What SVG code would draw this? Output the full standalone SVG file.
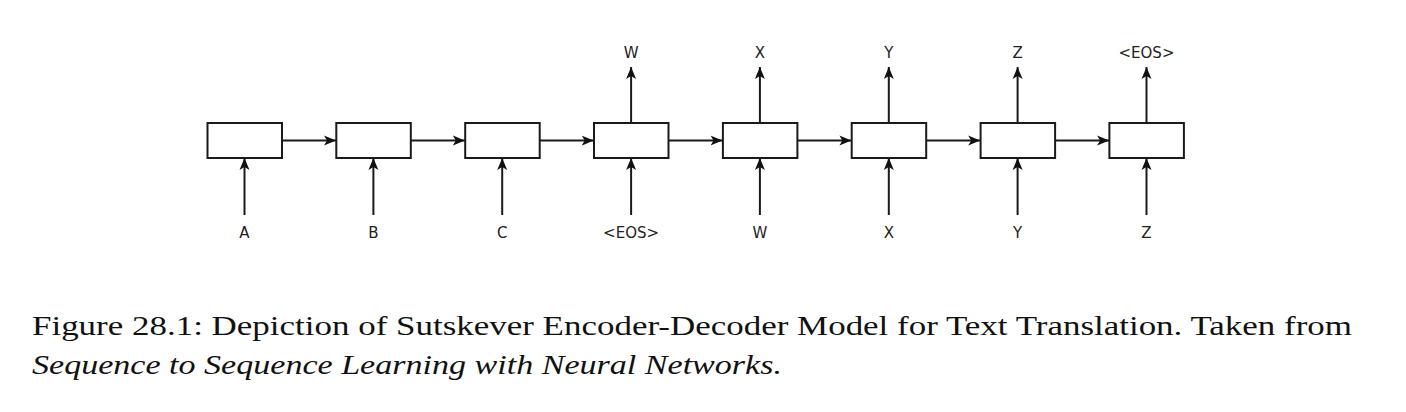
<svg xmlns="http://www.w3.org/2000/svg" width="1406" height="412" viewBox="0 0 1406 412">
<style>
.box{fill:#fff;stroke:#1a1a1a;stroke-width:2}
.ln{stroke:#1a1a1a;stroke-width:2;fill:none;marker-end:url(#ah)}
.lbl{font-family:"DejaVu Sans",sans-serif;font-size:15px;fill:#222;text-anchor:middle}
.cap{font-family:"Liberation Serif","Times New Roman",serif;font-size:28px;fill:#111}
</style>
<defs>
<marker id="ah" markerWidth="14" markerHeight="12" refX="12" refY="6" orient="auto" markerUnits="userSpaceOnUse">
<path d="M0,1 L12,6 L0,11 L3,6 z" fill="#111"/>
</marker>
</defs>
<rect width="1406" height="412" fill="#fff"/>
<g id="connectors">
<line class="ln" x1="282" y1="140.5" x2="336" y2="140.5"/>
<line class="ln" x1="410.8" y1="140.5" x2="464.8" y2="140.5"/>
<line class="ln" x1="539.7" y1="140.5" x2="593.7" y2="140.5"/>
<line class="ln" x1="668.5" y1="140.5" x2="722.5" y2="140.5"/>
<line class="ln" x1="797.4" y1="140.5" x2="851.4" y2="140.5"/>
<line class="ln" x1="926.2" y1="140.5" x2="980.2" y2="140.5"/>
<line class="ln" x1="1055.1" y1="140.5" x2="1109.1" y2="140.5"/>
<line class="ln" x1="244.5" y1="215" x2="244.5" y2="158"/>
<line class="ln" x1="373.4" y1="215" x2="373.4" y2="158"/>
<line class="ln" x1="502.2" y1="215" x2="502.2" y2="158"/>
<line class="ln" x1="631.1" y1="215" x2="631.1" y2="158"/>
<line class="ln" x1="759.9" y1="215" x2="759.9" y2="158"/>
<line class="ln" x1="888.8" y1="215" x2="888.8" y2="158"/>
<line class="ln" x1="1017.6" y1="215" x2="1017.6" y2="158"/>
<line class="ln" x1="1146.5" y1="215" x2="1146.5" y2="158"/>
<line class="ln" x1="631.1" y1="123" x2="631.1" y2="67"/>
<line class="ln" x1="759.9" y1="123" x2="759.9" y2="67"/>
<line class="ln" x1="888.8" y1="123" x2="888.8" y2="67"/>
<line class="ln" x1="1017.6" y1="123" x2="1017.6" y2="67"/>
<line class="ln" x1="1146.5" y1="123" x2="1146.5" y2="67"/>
</g>
<g id="n1"><rect class="box" x="207.5" y="123" width="74.5" height="35"/><text class="lbl" x="244.5" y="238">A</text></g>
<g id="n2"><rect class="box" x="336.3" y="123" width="74.5" height="35"/><text class="lbl" x="373.4" y="238">B</text></g>
<g id="n3"><rect class="box" x="465.2" y="123" width="74.5" height="35"/><text class="lbl" x="502.2" y="238">C</text></g>
<g id="n4"><rect class="box" x="594" y="123" width="74.5" height="35"/><text class="lbl" x="631.1" y="238">&lt;EOS&gt;</text><text class="lbl" x="631.1" y="58">W</text></g>
<g id="n5"><rect class="box" x="722.9" y="123" width="74.5" height="35"/><text class="lbl" x="759.9" y="238">W</text><text class="lbl" x="759.9" y="58">X</text></g>
<g id="n6"><rect class="box" x="851.7" y="123" width="74.5" height="35"/><text class="lbl" x="888.8" y="238">X</text><text class="lbl" x="888.8" y="58">Y</text></g>
<g id="n7"><rect class="box" x="980.6" y="123" width="74.5" height="35"/><text class="lbl" x="1017.6" y="238">Y</text><text class="lbl" x="1017.6" y="58">Z</text></g>
<g id="n8"><rect class="box" x="1109.4" y="123" width="74.5" height="35"/><text class="lbl" x="1146.5" y="238">Z</text><text class="lbl" x="1146.5" y="58">&lt;EOS&gt;</text></g>
<g id="caption">
<text class="cap" x="32" y="335" textLength="1320" lengthAdjust="spacingAndGlyphs">Figure 28.1: Depiction of Sutskever Encoder-Decoder Model for Text Translation. Taken from</text>
<text class="cap" x="32" y="374" font-style="italic" textLength="750" lengthAdjust="spacingAndGlyphs">Sequence to Sequence Learning with Neural Networks.</text>
</g>
</svg>
